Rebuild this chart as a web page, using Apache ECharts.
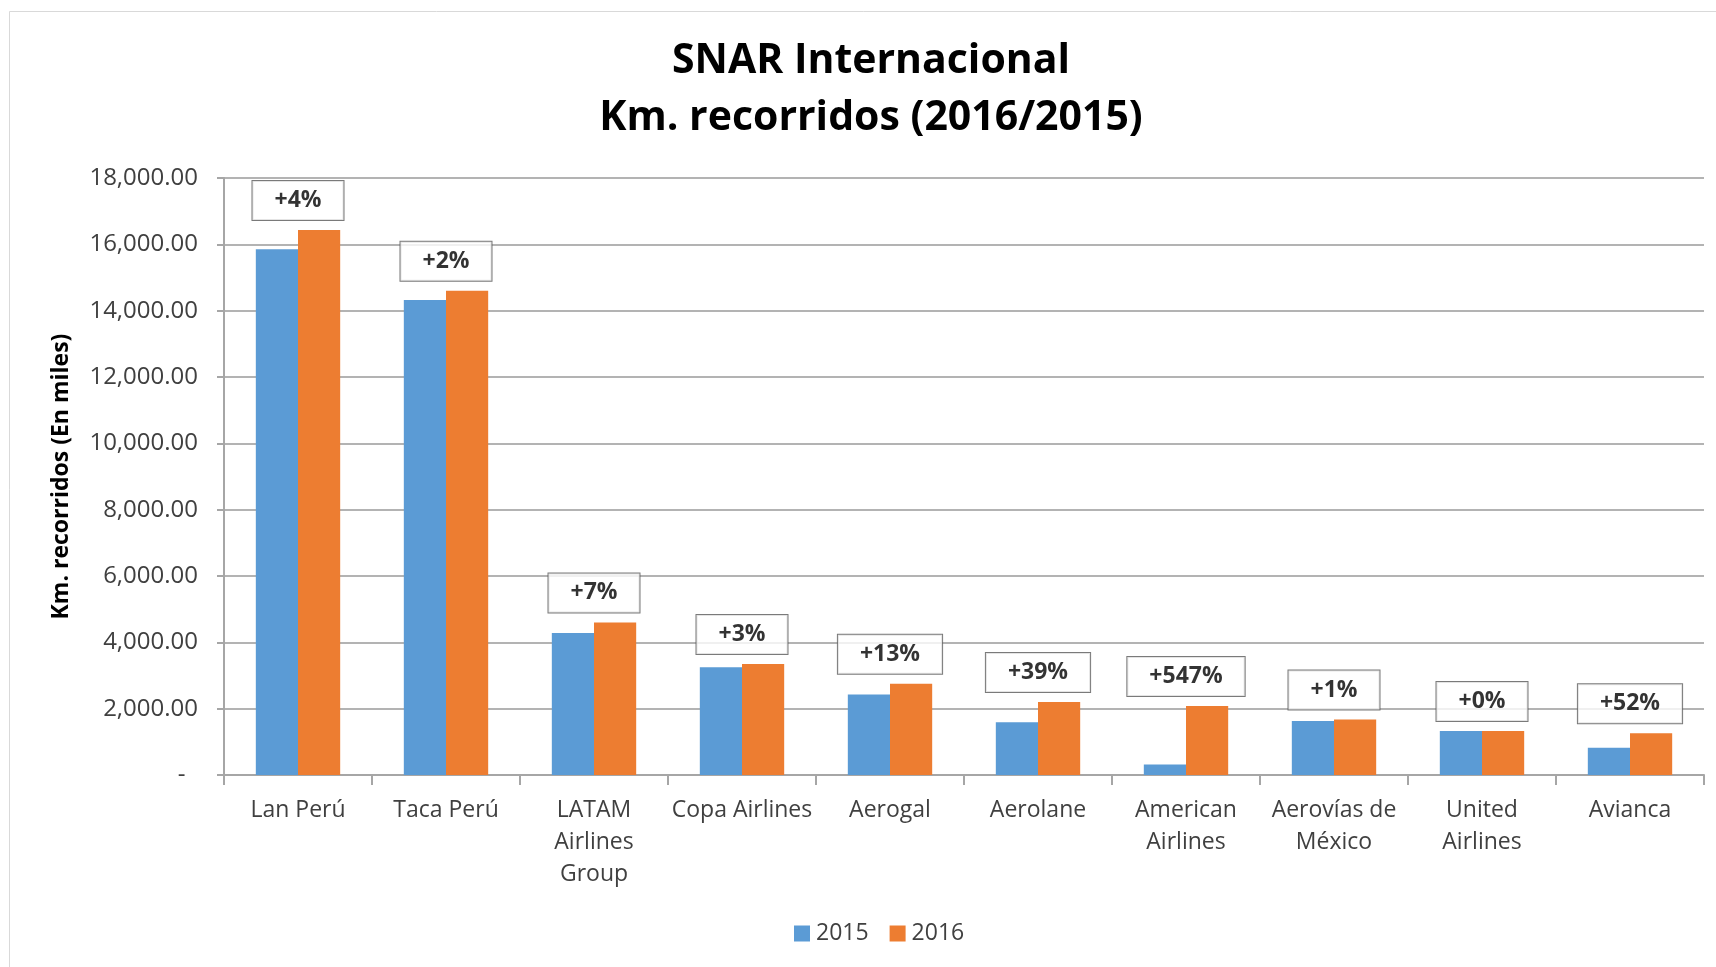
<!DOCTYPE html>
<html>
<head>
<meta charset="utf-8">
<script src="https://cdn.jsdelivr.net/npm/echarts@6/dist/echarts.min.js"></script>
<style>
html, body { margin: 0; padding: 0; background: #fff; }
#chart { width: 1716px; height: 967px; }
</style>
</head>
<body>
<div id="chart"></div>
<script>
// datos
const categories = ['Lan Perú', 'Taca Perú', 'LATAM\nAirlines\nGroup', 'Copa Airlines', 'Aerogal', 'Aerolane', 'American\nAirlines', 'Aerovías de\nMéxico', 'United\nAirlines', 'Avianca'];
const km2015 = [15850, 14320, 4280, 3250, 2430, 1590, 320, 1630, 1330, 820];
const km2016 = [16430, 14600, 4600, 3350, 2750, 2200, 2080, 1670, 1330, 1260];
const growthLabels = ['+4%', '+2%', '+7%', '+3%', '+13%', '+39%', '+547%', '+1%', '+0%', '+52%'];
const yMin = 0, yMax = 18000, yStep = 2000;

const font = "'Open Sans', 'Noto Sans', sans-serif";

let myChart = echarts.init(document.getElementById('chart'));

// punto invisible encima de cada par de barras para la caja de %
let boxData = categories.map((c, i) => [i, Math.max(km2015[i], km2016[i])]);

let option = {
    animation: false,
    backgroundColor: '#fff',
    textStyle: { fontFamily: font },
    graphic: [{
        type: 'rect',
        shape: { x: 9.5, y: 11.5, width: 1720, height: 980 },
        style: { fill: 'none', stroke: '#d9d9d9', lineWidth: 1 },
        silent: true
    }],
    title: {
        text: 'SNAR Internacional\nKm. recorridos (2016/2015)',
        left: 866,
        textAlign: 'center',
        top: 28,
        textStyle: {
            fontFamily: font,
            fontSize: 41,
            fontWeight: 'bold',
            color: '#000',
            lineHeight: 57
        }
    },
    legend: {
        data: ['2015', '2016'],
        left: 789,
        top: 917,
        itemWidth: 16,
        itemHeight: 16,
        itemGap: 21,
        icon: 'rect',
        textStyle: { fontFamily: font, fontSize: 23, color: '#404040', padding: [0, 0, 0, 1] }
    },
    grid: {
        left: 224,
        right: 12,
        top: 178,
        bottom: 192
    },
    xAxis: {
        type: 'category',
        data: categories,
        axisLine: { lineStyle: { color: '#a6a6a6', width: 2 } },
        axisTick: { show: true, length: 10, lineStyle: { color: '#a6a6a6', width: 2 } },
        axisLabel: {
            interval: 0,
            margin: 19,
            fontFamily: font,
            fontSize: 23,
            lineHeight: 32,
            color: '#404040'
        }
    },
    yAxis: {
        type: 'value',
        min: yMin,
        max: yMax,
        interval: yStep,
        name: 'Km. recorridos (En miles)',
        nameLocation: 'middle',
        nameGap: 151,
        nameTextStyle: { fontFamily: font, fontSize: 23, fontWeight: 'bold', color: '#000' },
        axisLine: { show: true, lineStyle: { color: '#a6a6a6', width: 2 } },
        axisTick: { show: true, length: 7, lineStyle: { color: '#a6a6a6', width: 2 } },
        splitLine: { show: true, lineStyle: { color: '#b3b3b3', width: 2 } },
        axisLabel: {
            margin: 26,
            fontFamily: font,
            fontSize: 24,
            color: '#404040',
            formatter: function (v) {
                if (v === 0) return '-  ';
                return v.toLocaleString('en-US', { minimumFractionDigits: 2, maximumFractionDigits: 2 });
            }
        }
    },
    series: [{
        name: '2015',
        type: 'bar',
        data: km2015,
        barGap: 0,
        barCategoryGap: '43%',
        itemStyle: { color: '#5b9bd5' }
    }, {
        name: '2016',
        type: 'bar',
        data: km2016,
        barGap: 0,
        barCategoryGap: '43%',
        itemStyle: { color: '#ed7d31' }
    }, {
        type: 'scatter',
        data: boxData,
        symbolSize: 0,
        silent: true,
        z: 5,
        label: {
            show: true,
            position: 'top',
            distance: 10,
            formatter: (p) => growthLabels[p.dataIndex],
            fontFamily: font,
            fontSize: 23,
            fontWeight: 'bold',
            color: '#000',
            backgroundColor: '#fff',
            borderColor: '#595959',
            borderWidth: 1,
            padding: [8, 22, 8, 22]
        }
    }]
};

option && myChart.setOption(option);
</script>
</body>
</html>
